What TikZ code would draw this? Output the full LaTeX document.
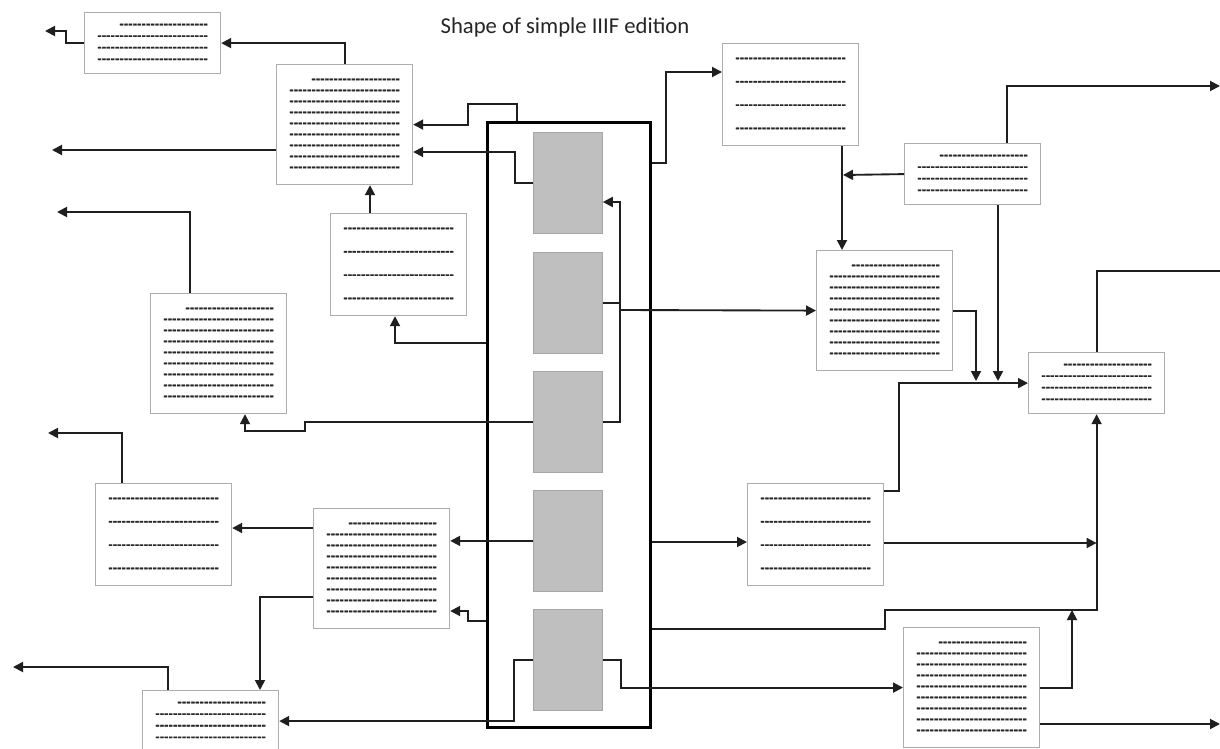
\documentclass[tikz,border=0pt]{standalone}
\usepackage{fontspec}
\newfontfamily\titlefont{Carlito}
\newfontfamily\dashfont{DejaVu Sans Bold}[FakeBold=1.6]
\usetikzlibrary{arrows.meta}
\newcommand\dlinerow[1]{\foreach\k in {1,...,#1}{-\kern0pt}}
\newcommand\dfullrow{\dlinerow{25}}
\newcommand\dshortrow{\dlinerow{20}}
\newcommand\fourshort{\dshortrow\\\dfullrow\\\dfullrow\\\dfullrow}
\newcommand\foureven{\dfullrow\\\dfullrow\\\dfullrow\\\dfullrow}
\newcommand\ninerow{\dshortrow\\\dfullrow\\\dfullrow\\\dfullrow\\\dfullrow\\\dfullrow\\\dfullrow\\\dfullrow\\\dfullrow}
\tikzset{
  wire/.style={line width=1.4pt, draw=black!88},
  arr/.style={wire, -{Triangle[length=7.5pt,width=7.5pt]}},
  doc/.style={draw=black!32, line width=0.9pt, fill=white, inner sep=0pt, anchor=north west,
              minimum width=102pt, text=black!85, align=right},
  smalldoc/.style={doc, minimum height=45.75pt, font=\dashfont\fontsize{8}{8.7}\selectfont},
  middoc/.style={doc, minimum height=76.5pt, align=center, font=\dashfont\fontsize{8}{17.5}\selectfont},
  bigdoc/.style={doc, minimum height=90pt, font=\dashfont\fontsize{8}{8.25}\selectfont},
  core/.style={draw=black, line width=2.4pt, anchor=north west, minimum width=122.25pt,
               minimum height=453.75pt, inner sep=0pt},
  panel/.style={draw=black!35, fill=black!25, line width=0.6pt, anchor=north west,
                minimum width=51.75pt, minimum height=75.75pt, inner sep=0pt},
}
\begin{document}
\begin{tikzpicture}[x=0.75pt,y=-0.75pt]
\useasboundingbox (0,0) rectangle (1220,749);
\fill[white] (0,0) rectangle (1220,749);

\node[font=\titlefont\fontsize{17}{20}\selectfont, anchor=base, text=black!85] (title) at (565,34) {Shape of simple IIIF edition};

% central block
\node[core] (core) at (486,121) {};
\node[panel] (g1) at (533,132) {};
\node[panel] (g2) at (533,252) {};
\node[panel] (g3) at (533,371) {};
\node[panel] (g4) at (533,490) {};
\node[panel] (g5) at (533,609) {};

% document boxes
\node[smalldoc] (A) at (84,12) {\fourshort};
\node[bigdoc] (B) at (276,64) {\ninerow};
\node[middoc] (C) at (330,213) {\foureven};
\node[bigdoc] (D) at (150,293) {\ninerow};
\node[middoc] (E) at (95,483) {\foureven};
\node[bigdoc] (F) at (313,508) {\ninerow};
\node[smalldoc] (G) at (142,690) {\fourshort};
\node[middoc] (H) at (722,43) {\foureven};
\node[smalldoc] (I) at (904,143) {\fourshort};
\node[bigdoc] (J) at (816,250) {\ninerow};
\node[smalldoc] (K) at (1028,352) {\fourshort};
\node[middoc] (L) at (747,483) {\foureven};
\node[bigdoc] (M) at (903,627) {\ninerow};

% free ends and junctions
\coordinate (o1) at (45,31);
\coordinate (o3) at (52,150);
\coordinate (o10) at (57,212);
\coordinate (o12) at (48,433);
\coordinate (o17) at (13,667);
\coordinate (o21) at (1220,724);
\coordinate (o27) at (1220,86);
\coordinate (o28) at (1222,271);
\coordinate (j1) at (620,310);
\coordinate (j2) at (976,381);
\coordinate (j3) at (998,381);
\coordinate (j4) at (1072,610);
\coordinate (j5) at (843,175);

% connectors, left side
\draw[arr] (A.west) -| (66,31) -- (o1);
\draw[arr] (B.north) |- (A.east);
\draw[arr] (B.west |- 0,150) -- (o3);
\draw[arr] (C.north -| 370,0) -- (B.south -| 370,0);
\draw[arr] (core.north -| 517,0) |- (468,104) |- (B.east);
\draw[arr] (g1.west) -| (515,152) -- (B.east |- 0,152);
\draw[arr] (g3.east) -| (620,202) -- (g1.east |- 0,202);
\draw[wire] (g2.east) -- (g2.east -| j1);
\draw[arr] (j1) -- (J.west);
\draw[arr] (core.east |- 0,163) -| (666,72) -- (H.west |- 0,72);
\draw[arr] (core.west |- 0,343) -| (C.south -| 395,0);
\draw[arr] (D.north -| 190,0) |- (o10);
\draw[arr] (g3.west) -| (305,431) -| (D.south -| 245,0);
\draw[arr] (E.north -| 122,0) |- (o12);
\draw[arr] (F.west |- 0,528) -- (E.east |- 0,528);
\draw[arr] (g4.west) -- (F.east |- g4.west);
\draw[arr] (core.west |- 0,621) -| (468,611) -- (F.east |- 0,611);
\draw[arr] (F.west |- 0,597) -| (G.north -| 260,0);
\draw[arr] (G.north -| 168,0) |- (o17);
\draw[arr] (g5.west) -| (G.east -| 514,0) -- (G.east);

% connectors, right side
\draw[arr] (core.east |- 0,542) -- (L.west |- 0,542);
\draw[arr] (core.east |- 0,629) -| (885,610) -| (K.south);
\draw[arr] (L.east |- 0,543) -- (K.south |- 0,543);
\draw[arr] (M.east) -| (j4);
\draw[arr] (M.east |- 0,724) -- (o21);
\draw[arr] (g5.east) -| (M.west -| 621,0) -- (M.west);
\draw[arr] (L.east |- 0,491) -| (K.west -| 899,0) -- (K.west);
\draw[arr] (J.east) -| (j2);
\draw[arr] (I.south -| 998,0) -- (j3);
\draw[arr] (I.west) -- (j5);
\draw[arr] (H.south -| 842,0) -- (J.north -| 842,0);
\draw[arr] (I.north -| 1007,0) |- (o27);
\draw[wire] (K.north) |- (o28);
\end{tikzpicture}
\end{document}
